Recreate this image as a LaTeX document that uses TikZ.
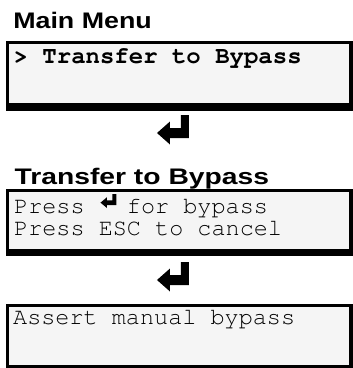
\documentclass[tikz,border=0pt]{standalone}
\usepackage{fontspec}
\usepackage{graphicx}
\setmonofont{TeX Gyre Cursor}
\newfontfamily\titlefont{Liberation Sans}
\definecolor{screen}{HTML}{F5F5F5}
\tikzset{
  titletext/.style={anchor=base west, inner sep=0pt, font=\titlefont\bfseries\fontsize{22.5}{22.5}\selectfont},
  monotext/.style={anchor=base west, inner sep=0pt, text height=14pt, text depth=4pt, font=\ttfamily\fontsize{23.5}{23.5}\selectfont},
  framebox/.style={fill=black, inner sep=0pt, anchor=north west},
  screenbox/.style={fill=screen, inner sep=0pt, anchor=north west, minimum width=340pt},
  enterkey/.pic={\fill (0,0) -- (0,23) -- (-8,23) -- (-8,10) -- (-19,10) -- (-19,16.5) -- (-32,5) -- (-19,-6.5) -- (-19,0) -- cycle;}
}
\begin{document}
\begin{tikzpicture}[x=1pt,y=1pt]
\useasboundingbox (0,0) rectangle (353,368);
% titles
\node[titletext] (maintitle) at (13.1,339) {\resizebox{138.5pt}{\height}{Main Menu}};
\node[titletext] (transtitle) at (14.4,183.5) {\resizebox{254.5pt}{\height}{Transfer to Bypass}};
% box 1
\node[framebox, minimum width=347pt, minimum height=70pt] (menuframe) at (6,327) {};
\node[screenbox, minimum height=59pt] (menuscreen) at (9,324) {};
\node[monotext, font=\ttfamily\bfseries\fontsize{24}{24}\selectfont] (menuitem) at (13.5,305) {> Transfer to Bypass};
% arrow 1
\pic at (189,230) {enterkey};
% box 2
\node[framebox, minimum width=347pt, minimum height=67pt] (promptframe) at (6,179) {};
\node[screenbox, minimum height=57pt] (promptscreen) at (9,176) {};
\node[monotext] (lineone) at (14,154) {Press\ \ \ for bypass};
\node[monotext] (linetwo) at (14,132.5) {Press ESC to cancel};
\pic[xscale=0.5, yscale=0.47] at (116.5,163) {enterkey};
% arrow 2
\pic at (189,83) {enterkey};
% box 3
\node[framebox, minimum width=347pt, minimum height=64pt] (assertframe) at (6,64) {};
\node[screenbox, minimum height=58.5pt] (assertscreen) at (9,61.5) {};
\node[monotext] (assert) at (13,44) {Assert manual bypass};
\end{tikzpicture}
\end{document}
